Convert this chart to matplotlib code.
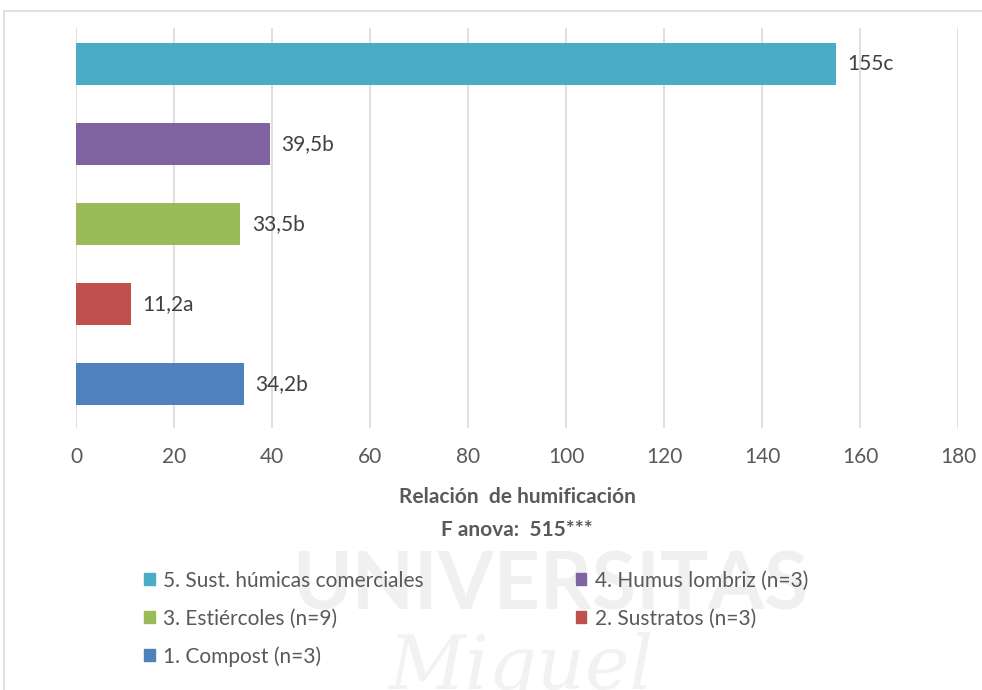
import matplotlib.pyplot as plt
from matplotlib.patches import Rectangle, Patch

# data (bottom to top, as drawn)
categories = ['1. Compost (n=3)', '2. Sustratos (n=3)', '3. Estiércoles (n=9)',
              '4. Humus lombriz (n=3)', '5. Sust. húmicas comerciales']
values = [34.2, 11.2, 33.5, 39.5, 155]
labels = ['34,2b', '11,2a', '33,5b', '39,5b', '155c']
colors = ['#4F81BD', '#C0504D', '#9BBB59', '#8064A2', '#4BACC6']
xticks = [0, 20, 40, 60, 80, 100, 120, 140, 160, 180]

plt.rcParams['font.family'] = ['Lato', 'DejaVu Sans']
txt = '#595959'

fig = plt.figure(figsize=(9.82, 6.9), dpi=100)
ax = fig.add_axes([0.0774, 0.3797, 0.8982, 0.5797])

# faint watermark behind everything
fig.text(0.56, 0.15, 'UNIVERSITAS', fontsize=58, fontweight='bold', color='#F0F0F0',
         ha='center', va='center', zorder=0)
fig.text(0.53, 0.03, 'Miguel', fontsize=54, style='italic', color='#F2F2F2',
         ha='center', va='center', zorder=0, family=['DejaVu Serif'])

# chart border (cropped on the right and bottom)
fig.patches.append(Rectangle((0.004, -0.05), 1.2, 1.034, transform=fig.transFigure,
                             fill=False, edgecolor='#D9D9D9', linewidth=1.2))

y = range(len(values))
ax.barh(y, values, height=0.53, color=colors, zorder=3)
for yi, v, lab in zip(y, values, labels):
    ax.text(v + 2.4, yi, lab, va='center', ha='left', fontsize=15, color='#404040')

ax.set_xlim(0, 180)
ax.set_ylim(-0.55, 4.45)
ax.set_xticks(xticks)
ax.set_xticklabels([str(t) for t in xticks], fontsize=15, color=txt)
ax.set_yticks([])
ax.tick_params(axis='x', length=0, pad=14)
ax.grid(axis='x', color='#D9D9D9', linewidth=1.2, zorder=0)
for s in ax.spines.values():
    s.set_visible(False)
ax.set_facecolor('none')

ax.set_xlabel('Relación  de humificación\nF anova:  515***', fontsize=15,
              fontweight='bold', color=txt, labelpad=14, linespacing=1.85)

# legend in Excel row order: 5,4 / 3,2 / 1
order = [4, 2, 0, 3, 1]
handles = [Patch(color=colors[i], label=categories[i]) for i in order]
fig.legend(handles=handles, ncol=2, loc='upper left', bbox_to_anchor=(0.128, 0.2),
           frameon=False, fontsize=15, labelcolor=txt, handlelength=0.5,
           handleheight=0.5, handletextpad=0.4, columnspacing=7.3, labelspacing=0.85)

fig.savefig('out.png', dpi=100, facecolor='white')
